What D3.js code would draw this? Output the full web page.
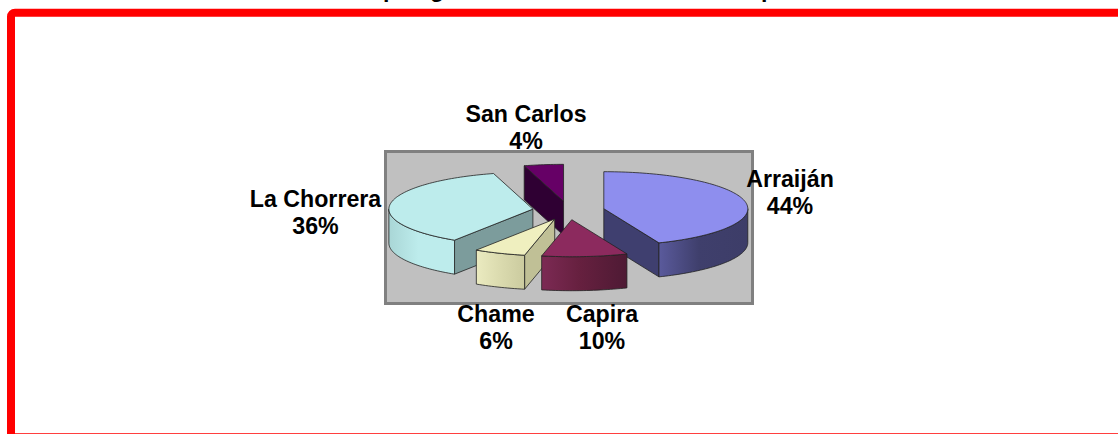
<!DOCTYPE html>
<html lang="en">
<head>
<meta charset="utf-8">
<title>Pie 3D</title>
<script src="https://d3js.org/d3.v7.min.js"></script>
<style>
  html, body { margin: 0; padding: 0; background: #fff; overflow: hidden; }
  svg { display: block; }
  .label { font-family: "Liberation Sans", Arial, sans-serif; font-weight: bold; font-size: 23.2px; fill: #000; text-anchor: middle; }
</style>
</head>
<body>
<svg width="1118" height="434"></svg>
<script>
// values, the labels show them rounded
const categories = ["Arraiján", "Capira", "Chame", "La Chorrera", "San Carlos"];
const shares = [43.7, 9.6, 5.8, 36.4, 4.4];

// colours per slice: top face, cut face, outer wall gradient
const topColors = ["#8e8eee", "#8c2a5e", "#efefbf", "#bdecec", "#660066"];
const cutColors = ["#3f3f6f", "#46152f", "#c0c096", "#7c9c9c", "#2f0033"];
const wallFrom = ["#5a5a9c", "#7c2a54", "#ebebc0", "#a9d6d6", "#330033"];
const wallMid = ["#3f3f6c", "#66203f", "#dcdcb0", "#bdecec", "#330033"];
const wallTo = ["#3d3d68", "#4e1a34", "#cbcb9f", "#bdecec", "#330033"];

// label centres, one per category, and the draw order back to front
const labelX = [790, 602, 496, 315.5, 526];
const labelY = [186.5, 321.5, 321.5, 206.5, 121.5];
const drawOrder = [4, 0, 3, 2, 1];

const cx = 568.5, cy = 210.5;
const rx = 144, ry = 37, depth = 34, explode = 36;

const svg = d3.select("svg");
const defs = svg.append("defs");

// red frame runs off the right and the bottom of the window
svg.append("rect")
    .attr("x", 11).attr("y", 12.7)
    .attr("width", 1130).attr("height", 424.6)
    .attr("rx", 4)
    .attr("fill", "#fff")
    .attr("stroke", "#ff0000")
    .attr("stroke-width", 8);

// only the descenders of the title show, the rest is cut off by the window
[["p", 390], ["g", 437], ["p", 768]].forEach(d => {
  svg.append("text").attr("class", "label")
      .attr("x", d[1]).attr("y", -3)
      .text(d[0]);
});

// plot area
svg.append("rect")
    .attr("x", 385.5).attr("y", 151.5)
    .attr("width", 367).attr("height", 152)
    .attr("fill", "#c0c0c0")
    .attr("stroke", "#808080")
    .attr("stroke-width", 3);

const pie = d3.pie().sort(null).value(d => d)
    .startAngle(0).endAngle(2 * Math.PI);
const arcs = pie(shares);

const line = d3.line();
const project = (c, a, dz) => [c[0] + rx * Math.sin(a), c[1] - ry * Math.cos(a) + dz];
const arcPoints = (c, a0, a1, dz) => {
  const n = Math.max(2, Math.ceil((a1 - a0) * 40));
  return d3.range(n + 1).map(i => project(c, a0 + (a1 - a0) * i / n, dz));
};

drawOrder.forEach(i => {
  const d = arcs[i];
  const mid = (d.startAngle + d.endAngle) / 2;
  const c = [cx + explode * Math.sin(mid), cy - explode * (ry / rx) * Math.cos(mid)];
  const g = svg.append("g")
      .attr("stroke", "#222")
      .attr("stroke-width", 0.8)
      .attr("stroke-linejoin", "round");

  // cut faces, only those turned towards the viewer
  [d.startAngle, d.endAngle].forEach((a, k) => {
    const visible = k === 0 ? Math.sin(a) < -0.01 : Math.sin(a) > 0.01;
    if (!visible) return;
    const rim = project(c, a, 0);
    g.append("path")
        .attr("d", line([c, rim, [rim[0], rim[1] + depth], [c[0], c[1] + depth]]) + "Z")
        .attr("fill", cutColors[i]);
  });

  // outer wall, front half of the ellipse only
  const w0 = Math.max(d.startAngle, Math.PI / 2);
  const w1 = Math.min(d.endAngle, 3 * Math.PI / 2);
  if (w0 < w1) {
    const id = "wall" + i;
    const grad = defs.append("linearGradient").attr("id", id);
    grad.append("stop").attr("offset", "0").attr("stop-color", wallFrom[i]);
    grad.append("stop").attr("offset", "0.45").attr("stop-color", wallMid[i]);
    grad.append("stop").attr("offset", "1").attr("stop-color", wallTo[i]);
    const front = arcPoints(c, w0, w1, 0);
    const back = arcPoints(c, w0, w1, depth).reverse();
    g.append("path")
        .attr("d", line(front.concat(back)) + "Z")
        .attr("fill", "url(#" + id + ")");
  }

  // top face
  g.append("path")
      .attr("d", line([c].concat(arcPoints(c, d.startAngle, d.endAngle, 0))) + "Z")
      .attr("fill", topColors[i]);
});

// labels
const pct = d3.format(".0f");
categories.forEach((name, i) => {
  const t = svg.append("text").attr("class", "label").attr("y", labelY[i]);
  t.append("tspan").attr("x", labelX[i]).text(name);
  t.append("tspan").attr("x", labelX[i]).attr("dy", 27).text(pct(shares[i]) + "%");
});
</script>
</body>
</html>
